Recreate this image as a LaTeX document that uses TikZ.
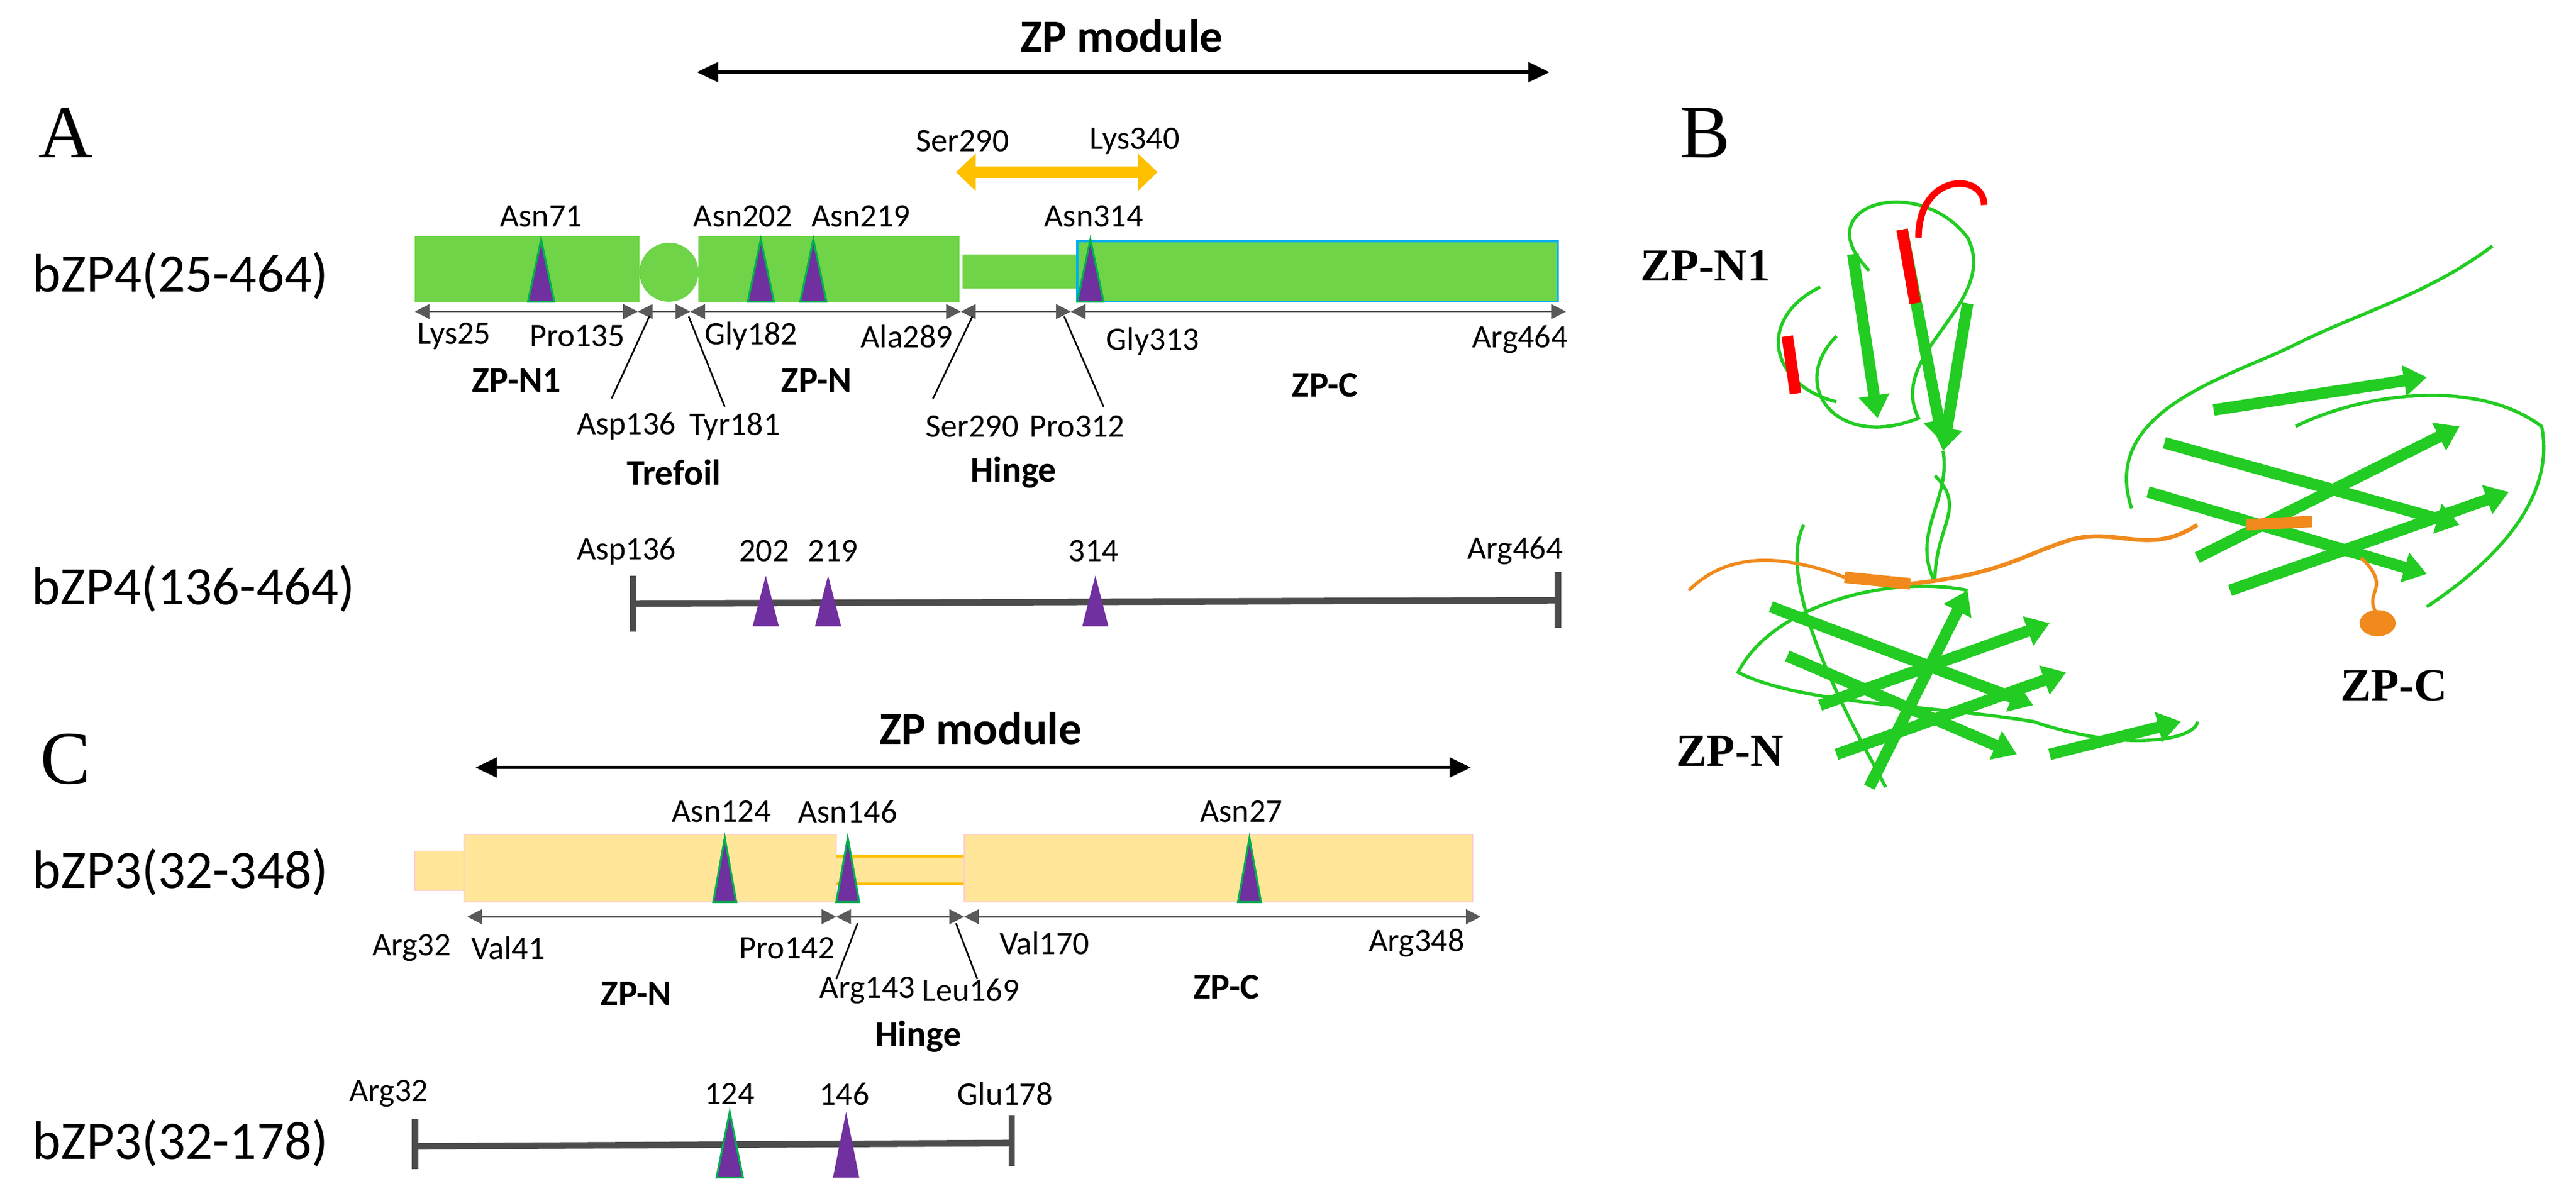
\documentclass[tikz,border=0pt]{standalone}
\usepackage{fontspec}
\setmainfont{Carlito}
\newfontfamily\serifB{Liberation Serif}
\usetikzlibrary{arrows.meta}
\definecolor{gbarc}{HTML}{6FD447}
\definecolor{zpyel}{HTML}{FFE699}
\definecolor{purp}{HTML}{7030A0}
\definecolor{tealg}{HTML}{00B050}
\definecolor{blueo}{HTML}{00B0F0}
\definecolor{gold}{HTML}{FFC000}
\definecolor{prot}{HTML}{22CC22}
\definecolor{orng}{HTML}{F08A1C}
\tikzset{
 lab/.style={font=\fontsize{20}{20}\selectfont,inner sep=0pt},
 blab/.style={font=\fontsize{22}{22}\selectfont\bfseries,inner sep=0pt},
 rowlab/.style={font=\fontsize{33}{33}\selectfont,inner sep=0pt},
 panel/.style={font=\serifB\fontsize{46}{46}\selectfont,inner sep=0pt},
 dom/.style={font=\serifB\bfseries\fontsize{28}{28}\selectfont,inner sep=0pt},
 mod/.style={font=\fontsize{28}{28}\selectfont\bfseries,inner sep=0pt},
 glyc/.style={fill=purp,draw=tealg,line width=1.2pt},
 axisl/.style={draw=gray!70!black,line width=1pt},
 lead/.style={line width=1pt},
 mline/.style={draw=black!70,line width=4pt},
 strand/.style={prot,line width=7pt,-{Triangle[length=14pt,width=18pt]}},
 coil/.style={prot,line width=2pt},
 dbl/.style={{Triangle[length=9pt,width=9pt]}-{Triangle[length=9pt,width=9pt]}},
}
\begin{document}
\begin{tikzpicture}[x=1pt,y=-1pt]
\useasboundingbox (0,0) rectangle (1571,726);
% ---------- Panel A ----------
\node[mod] (zpm1) at (684,22) {ZP module};
\coordinate (m1l) at (425,44); \coordinate (m1r) at (945,44);
\draw[line width=2pt,{Triangle[length=13pt,width=12pt]}-{Triangle[length=13pt,width=12pt]}] (m1l) -- (m1r);
\node[panel] (pA) at (40,81) {A};
\node[panel] (pB) at (1040,81) {B};
\node[panel] (pC) at (40,463) {C};
\node[lab] (s290a) at (587,86) {Ser290};
\node[lab] (k340) at (692,86) {Lys340};
\coordinate (ol) at (583,105); \coordinate (or) at (706,105);
\draw[gold,line width=7pt,{Triangle[length=12pt,width=22pt]}-{Triangle[length=12pt,width=22pt]}] (ol) -- (or);
\node[rowlab] (r1) at (110,168) {bZP4(25-464)};
\fill[gbarc] (253,144) rectangle (390,184);
\fill[gbarc] (408,166) circle (18);
\fill[gbarc] (426,144) rectangle (585,184);
\fill[gbarc] (587,155) rectangle (657,176);
\draw[fill=gbarc,draw=blueo,line width=1.2pt] (657,147) rectangle (950,184);
\foreach \x in {330,464,496,665}{\draw[glyc] (\x-8,184) -- (\x,146) -- (\x+8,184) -- cycle;}
\node[lab] (n71) at (330,132) {Asn71};
\node[lab] (n202) at (453,132) {Asn202};
\node[lab] (n219) at (525,132) {Asn219};
\node[lab] (n314) at (667,132) {Asn314};
\coordinate (a0) at (253,190); \coordinate (a1) at (389,190);
\coordinate (a2) at (421,190); \coordinate (a3) at (586,190);
\coordinate (a4) at (653,190); \coordinate (a5) at (955,190);
\draw[axisl,dbl] (a0) -- (a1);
\draw[axisl,dbl] (a1) -- (a2);
\draw[axisl,dbl] (a2) -- (a3);
\draw[axisl,dbl] (a3) -- (a4);
\draw[axisl,dbl] (a4) -- (a5);
\node[lab] (k25) at (277,205) {Lys25};
\node[lab] (p135) at (352,205) {Pro135};
\node[lab] (g182) at (458,205) {Gly182};
\node[lab] (a289) at (553,205) {Ala289};
\node[lab] (g313) at (703,208) {Gly313};
\node[lab] (r464) at (927,207) {Arg464};
\node[blab] (zpn1) at (315,232) {ZP-N1};
\node[blab] (zpn) at (498,232) {ZP-N};
\node[blab] (zpc) at (808,235) {ZP-C};
\node[lab] (d136) at (382,260) {Asp136};
\node[lab] (y181) at (448,260) {Tyr181};
\node[lab] (s290) at (593,260) {Ser290};
\node[lab] (p312) at (657,260) {Pro312};
\coordinate (l1) at (396,193); \coordinate (l2) at (420,193);
\coordinate (l3) at (593,193); \coordinate (l4) at (649,193);
\draw[lead] (l1) -- (373,243);
\draw[lead] (l2) -- (442,248);
\draw[lead] (l3) -- (569,243);
\draw[lead] (l4) -- (673,248);
\node[blab] (tref) at (411,288) {Trefoil};
\node[blab] (hinge1) at (618,288) {Hinge};
% row 2
\node[rowlab] (r2) at (118,359) {bZP4(136-464)};
\coordinate (b0) at (386,368); \coordinate (b1) at (950,366);
\draw[mline] (b0) -- (b1);
\draw[mline] (386,351) -- (386,385);
\draw[mline] (950,349) -- (950,383);
\foreach \x in {467,505,668}{\fill[purp] (\x-8,382) -- (\x,351) -- (\x+8,382) -- cycle;}
\node[lab] (e136) at (382,336) {Asp136};
\node[lab] (e202) at (466,336) {202};
\node[lab] (e219) at (508,336) {219};
\node[lab] (e314) at (667,336) {314};
\node[lab] (e464) at (924,336) {Arg464};
% ---------- Panel C ----------
\node[mod] (zpm2) at (598,444) {ZP module};
\coordinate (m2l) at (290,468); \coordinate (m2r) at (897,468);
\draw[line width=2pt,{Triangle[length=13pt,width=12pt]}-{Triangle[length=13pt,width=12pt]}] (m2l) -- (m2r);
\node[rowlab] (r3) at (110,532) {bZP3(32-348)};
\draw[fill=zpyel,draw=red!20,line width=0.6pt] (253,519) rectangle (283,543);
\draw[fill=zpyel,draw=red!20,line width=0.6pt] (283,509) rectangle (510,550);
\fill[zpyel] (510,522) rectangle (588,539);
\draw[gold,line width=1.5pt] (510,522) -- (588,522) (510,539) -- (588,539);
\draw[fill=zpyel,draw=red!20,line width=0.6pt] (588,509) rectangle (898,550);
\foreach \x in {442,517,762}{\draw[glyc] (\x-7,550) -- (\x,511) -- (\x+7,550) -- cycle;}
\node[lab] (c124) at (440,495) {Asn124};
\node[lab] (c146) at (517,495) {Asn146};
\node[lab] (c27) at (757,495) {Asn27};
\coordinate (c0) at (285,559); \coordinate (c1) at (510,559);
\coordinate (c2) at (588,559); \coordinate (c3) at (903,559);
\draw[axisl,dbl] (c0) -- (c1);
\draw[axisl,dbl] (c1) -- (c2);
\draw[axisl,dbl] (c2) -- (c3);
\node[lab] (q32) at (251,578) {Arg32};
\node[lab] (v41) at (310,578) {Val41};
\node[lab] (p142) at (480,578) {Pro142};
\node[lab] (v170) at (637,575) {Val170};
\node[lab] (r348) at (864,575) {Arg348};
\node[lab] (r143) at (529,604) {Arg143};
\node[lab] (l169) at (592,604) {Leu169};
\coordinate (cl1) at (523,563); \coordinate (cl2) at (583,563);
\draw[lead] (cl1) -- (510,597);
\draw[lead] (cl2) -- (596,597);
\node[blab] (czpn) at (388,606) {ZP-N};
\node[blab] (czpc) at (748,602) {ZP-C};
\node[blab] (hinge2) at (560,632) {Hinge};
% row 4
\node[rowlab] (r4) at (110,697) {bZP3(32-178)};
\coordinate (d0) at (253,699); \coordinate (d1) at (617,697);
\draw[mline] (d0) -- (d1);
\draw[mline] (253,682) -- (253,713);
\draw[mline] (617,680) -- (617,711);
\draw[glyc] (437,718) -- (445,678) -- (453,718) -- cycle;
\fill[purp] (508,718) -- (516,678) -- (524,718) -- cycle;
\node[lab] (f32) at (237,667) {Arg32};
\node[lab] (f124) at (445,667) {124};
\node[lab] (f146) at (515,667) {146};
\node[lab] (f178) at (613,667) {Glu178};
% ---------- Panel B (schematic structure) ----------
\begin{scope}[shift={(-30,45)}]
\draw[coil] (1170,120) .. controls (1130,80) and (1200,60) .. (1230,100) .. controls (1250,140) and (1180,170) .. (1200,210) .. controls (1150,230) and (1120,190) .. (1150,160);
\draw[coil] (1140,130) .. controls (1100,150) and (1110,190) .. (1150,200);
\draw[red,line width=4pt] (1200,100) .. controls (1200,60) and (1240,60) .. (1240,80);
\draw[strand] (1190,95) -- (1215,225);
\draw[red,line width=7pt] (1190,95) -- (1198,140);
\draw[strand] (1160,110) -- (1175,210);
\draw[strand] (1230,140) -- (1215,230);
\draw[red,line width=7pt] (1120,160) -- (1125,195);
\draw[coil] (1215,230) .. controls (1220,260) and (1195,280) .. (1210,310);
\end{scope}
\draw[coil] (1180,355) .. controls (1180,320) and (1200,310) .. (1180,290);
\begin{scope}[shift={(0,-10)}]
\draw[coil] (1200,370) .. controls (1150,360) and (1080,380) .. (1060,420) .. controls (1100,440) and (1180,440) .. (1240,450) .. controls (1300,470) and (1340,460) .. (1340,450);
\draw[coil] (1100,330) .. controls (1080,370) and (1140,470) .. (1150,490);
\draw[strand] (1080,380) -- (1240,440);
\draw[strand] (1090,410) -- (1230,470);
\draw[strand] (1110,440) -- (1250,390);
\draw[strand] (1120,470) -- (1260,420);
\draw[strand] (1140,490) -- (1200,370);
\draw[strand] (1250,470) -- (1330,450);
\draw[orng,line width=7pt] (1125,362) -- (1165,366);
\draw[orng,line width=2pt] (1030,370) .. controls (1050,350) and (1080,345) .. (1125,362);
\end{scope}
\draw[orng,line width=2.5pt] (1165,356) .. controls (1220,350) and (1230,340) .. (1260,330) .. controls (1290,320) and (1310,340) .. (1340,320);
\begin{scope}[shift={(-120,50)}]
\draw[coil] (1420,260) .. controls (1400,200) and (1480,180) .. (1520,160) .. controls (1560,140) and (1600,130) .. (1640,100);
\draw[coil] (1520,210) .. controls (1560,190) and (1630,180) .. (1670,210) .. controls (1680,260) and (1630,300) .. (1600,320);
\draw[strand] (1440,220) -- (1620,270);
\draw[strand] (1430,250) -- (1600,300);
\draw[strand] (1460,290) -- (1620,210);
\draw[strand] (1480,310) -- (1650,250);
\draw[strand] (1470,200) -- (1600,180);
\draw[orng,line width=7pt] (1490,270) -- (1530,268);
\draw[orng,line width=2pt] (1560,290) .. controls (1580,310) and (1560,310) .. (1570,325);
\fill[orng] (1570,330) ellipse (11 and 8);
\end{scope}
\node[dom] (bn1) at (1040,162) {ZP-N1};
\node[dom] (bn) at (1055,458) {ZP-N};
\node[dom] (bc) at (1460,418) {ZP-C};
\end{tikzpicture}
\end{document}
